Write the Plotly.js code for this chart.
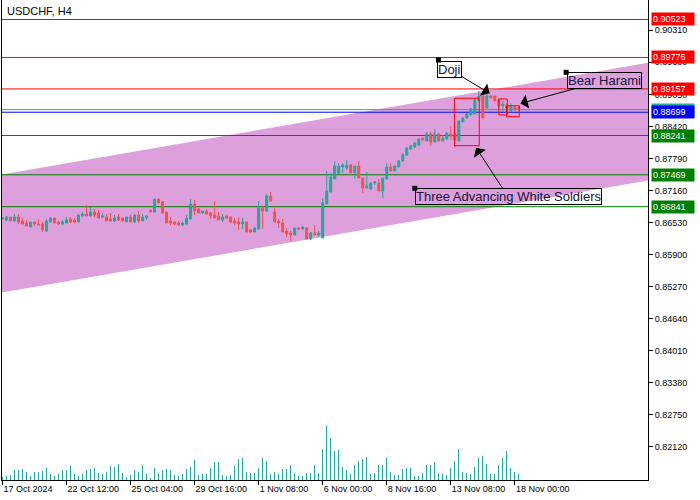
<!DOCTYPE html>
<html><head><meta charset="utf-8">
<script src="https://cdn.plot.ly/plotly-3.0.1.min.js"></script>
<style>html,body{margin:0;padding:0;background:#fff}#chart{width:700px;height:500px}</style>
</head><body><div id="chart"></div>
<script>
// ---- data (USDCHF H4) ----
const openP = [0.86599,0.86579,0.86638,0.86560,0.86638,0.86560,0.86520,0.86442,0.86540,0.86501,
0.86501,0.86363,0.86540,0.86619,0.86540,0.86501,0.86520,0.86599,0.86579,0.86540,
0.86658,0.86697,0.86658,0.86737,0.86717,0.86638,0.86638,0.86599,0.86560,0.86638,
0.86619,0.86540,0.86638,0.86540,0.86678,0.86560,0.86619,0.86776,0.86737,0.86992,
0.86933,0.86737,0.86560,0.86540,0.86520,0.86481,0.86501,0.86599,0.86894,0.86796,
0.86717,0.86756,0.86717,0.86678,0.86658,0.86579,0.86658,0.86638,0.86560,0.86540,
0.86501,0.86540,0.86383,0.86343,0.86402,0.86815,0.86756,0.87051,0.86737,0.86560,
0.86520,0.86363,0.86324,0.86284,0.86422,0.86402,0.86422,0.86206,0.86324,0.86284,
0.86225,0.86894,0.87130,0.87386,0.87504,0.87622,0.87602,0.87661,0.87504,0.87641,
0.87405,0.87209,0.87189,0.87307,0.87307,0.87150,0.87386,0.87622,0.87543,0.87622,
0.87740,0.87858,0.87976,0.88015,0.88054,0.88192,0.88133,0.88271,0.88113,0.88271,
0.88133,0.88172,0.88271,0.88271,0.88133,0.88507,0.88585,0.88644,0.88664,0.88920,
0.89018,0.88782,0.89018,0.89018,0.88939,0.88821,0.88841,0.88723,0.88802,0.88802];
const highP = [0.86619,0.86658,0.86638,0.86697,0.86697,0.86619,0.86579,0.86540,0.86540,0.86599,
0.86540,0.86599,0.86638,0.86619,0.86560,0.86579,0.86638,0.86638,0.86619,0.86678,
0.86737,0.86874,0.86835,0.86796,0.86776,0.86717,0.86697,0.86717,0.86678,0.86697,
0.86619,0.86638,0.86678,0.86697,0.86756,0.86697,0.86678,0.86776,0.86992,0.87012,
0.86953,0.86737,0.86638,0.86560,0.86560,0.86540,0.86678,0.86992,0.86973,0.86815,
0.86756,0.86796,0.86737,0.86953,0.86737,0.86697,0.86658,0.86638,0.86619,0.86638,
0.86619,0.86540,0.86402,0.86442,0.86953,0.86855,0.87091,0.87130,0.86815,0.86599,
0.86599,0.86422,0.86363,0.86422,0.86442,0.86461,0.86442,0.86343,0.86481,0.86363,
0.87012,0.87543,0.87504,0.87740,0.87700,0.87700,0.87759,0.87681,0.87641,0.87740,
0.87405,0.87523,0.87307,0.87346,0.87386,0.87405,0.87700,0.87700,0.87661,0.87759,
0.87897,0.88015,0.88054,0.88113,0.88172,0.88192,0.88310,0.88310,0.88369,0.88290,
0.88251,0.88310,0.88428,0.88310,0.88546,0.88605,0.88684,0.88782,0.88979,0.89116,
0.89097,0.89077,0.89038,0.89018,0.88979,0.88920,0.88880,0.88880,0.88821,0.88802];
const lowP = [0.86599,0.86560,0.86560,0.86540,0.86501,0.86501,0.86461,0.86442,0.86461,0.86481,
0.86343,0.86343,0.86540,0.86520,0.86481,0.86481,0.86520,0.86520,0.86520,0.86540,
0.86658,0.86658,0.86658,0.86638,0.86619,0.86619,0.86560,0.86540,0.86540,0.86560,
0.86540,0.86540,0.86540,0.86520,0.86520,0.86560,0.86579,0.86737,0.86737,0.86914,
0.86717,0.86520,0.86481,0.86481,0.86461,0.86461,0.86501,0.86599,0.86678,0.86717,
0.86697,0.86697,0.86599,0.86619,0.86579,0.86540,0.86599,0.86520,0.86481,0.86383,
0.86402,0.86343,0.86324,0.86343,0.86402,0.86402,0.86737,0.86953,0.86540,0.86422,
0.86343,0.86245,0.86166,0.86284,0.86402,0.86402,0.86206,0.86186,0.86284,0.86245,
0.86225,0.86894,0.87130,0.87386,0.87484,0.87504,0.87563,0.87504,0.87386,0.87405,
0.87110,0.87209,0.87189,0.87268,0.87150,0.87012,0.87386,0.87543,0.87543,0.87622,
0.87720,0.87838,0.87956,0.87995,0.88035,0.88153,0.88133,0.88035,0.88113,0.88133,
0.88133,0.88172,0.88153,0.87995,0.88133,0.88507,0.88566,0.88644,0.88664,0.88920,
0.88585,0.88782,0.88979,0.88920,0.88743,0.88703,0.88762,0.88703,0.88723,0.88743];
const closeP = [0.86619,0.86638,0.86560,0.86638,0.86540,0.86501,0.86461,0.86540,0.86501,0.86481,
0.86383,0.86560,0.86619,0.86520,0.86501,0.86540,0.86579,0.86540,0.86540,0.86678,
0.86697,0.86658,0.86737,0.86678,0.86619,0.86658,0.86560,0.86560,0.86619,0.86579,
0.86560,0.86638,0.86540,0.86678,0.86560,0.86638,0.86658,0.86737,0.86992,0.86914,
0.86717,0.86520,0.86520,0.86501,0.86481,0.86520,0.86619,0.86894,0.86756,0.86717,
0.86756,0.86697,0.86658,0.86619,0.86579,0.86638,0.86619,0.86540,0.86520,0.86501,
0.86540,0.86343,0.86343,0.86422,0.86815,0.86756,0.87051,0.86953,0.86540,0.86520,
0.86343,0.86304,0.86284,0.86422,0.86402,0.86442,0.86206,0.86324,0.86284,0.86324,
0.86914,0.87150,0.87425,0.87641,0.87641,0.87661,0.87661,0.87504,0.87641,0.87405,
0.87209,0.87248,0.87307,0.87327,0.87150,0.87405,0.87622,0.87543,0.87641,0.87740,
0.87858,0.87995,0.88035,0.88094,0.88172,0.88153,0.88271,0.88113,0.88271,0.88133,
0.88192,0.88290,0.88231,0.88153,0.88526,0.88585,0.88664,0.88762,0.88939,0.89018,
0.88585,0.89018,0.88979,0.88920,0.88821,0.88861,0.88782,0.88821,0.88762,0.88750];
const tickVolume = [80,100,130,250,250,280,200,100,220,220,
230,310,160,100,160,250,250,370,160,100,
160,250,280,310,190,160,200,370,340,430,
190,70,130,250,220,400,160,60,310,190,
250,280,250,130,100,160,280,340,520,130,
160,160,310,460,460,130,100,130,370,550,
580,220,190,190,310,580,490,160,220,160,
280,280,400,190,100,100,190,190,400,190,
820,1400,1090,760,790,340,250,160,400,490,
550,610,160,190,400,400,580,220,130,130,
280,310,310,100,100,190,400,400,460,190,
160,130,310,490,820,220,190,160,340,580,
640,430,160,160,400,580,760,310,220,160];
const tickPositions = [0,16,32,48,64,80,96,112,128];
const tickLabels = ["17 Oct 2024","22 Oct 12:00","25 Oct 04:00","29 Oct 16:00","1 Nov 08:00","6 Nov 00:00","8 Nov 16:00","13 Nov 08:00","18 Nov 00:00"];
const priceTicks = [0.82120,0.82750,0.83380,0.84010,0.84640,0.85270,0.85900,0.86530,0.87160,0.87790,0.88420,0.89050,0.89680,0.90310];
// horizontal levels
const levelPrices = [0.90523,0.89776,0.89157,0.88750,0.88699,0.88241,0.87469,0.86841];
const levelColors = ["#ff0000","#ff0000","#ff0000","#2aa9a0","#0000ff","#008000","#008000","#008000"];
// channel (bar index, upper price, lower price)
const channelX = [-0.1, 161.25];
const channelUpper = [0.87474, 0.89674];
const channelLower = [0.85153, 0.87357];
// pattern boxes [x0,x1,y0,y1]
const patternBoxes = [[112.9,119.1,0.88041,0.88973],[124.0,126.1,0.88645,0.88959],[125.9,129.1,0.88611,0.88827]];
// pattern labels
const patternText = ["Doji","Bear Harami","Three Advancing White Soldiers"];
const patternTargetX = [121.7,129.4,118.3];
const patternTargetY = [0.89071,0.88870,0.88002];
const patternAnchorX = [108.9,140.8,103.0];
const patternAnchorY = [0.89726,0.89484,0.87203];
const patternAx = [-40,84,32];
const patternAy = [-24,-23,49];

const idx = openP.map((_, i) => i);
const UP = "#26a69a", DN = "#ef5350";
const FONT = 'Liberation Sans, Arial, sans-serif';

const traces = [
  {type:'candlestick', x: idx, open: openP, high: highP, low: lowP, close: closeP,
   increasing:{line:{color:UP,width:1},fillcolor:UP},
   decreasing:{line:{color:DN,width:1},fillcolor:DN},
   whiskerwidth:0, hoverinfo:'skip', showlegend:false},
  {type:'bar', x: idx, y: tickVolume, yaxis:'y2', marker:{color:UP}, width:0.3,
   hoverinfo:'skip', showlegend:false},
  {type:'scatter', mode:'markers', x: patternAnchorX, y: patternAnchorY,
   marker:{symbol:'square', size:5, color:'#000'}, hoverinfo:'skip', showlegend:false}
];

const shapes = [];
shapes.push({type:'path', layer:'below', xref:'x', yref:'y',
  path:`M ${channelX[0]},${channelUpper[0]} L ${channelX[1]},${channelUpper[1]} L ${channelX[1]},${channelLower[1]} L ${channelX[0]},${channelLower[0]} Z`,
  fillcolor:'#dda0dd', line:{width:0}});
levelPrices.forEach((p,k)=>{
  shapes.push({type:'line', layer:'below', xref:'x', yref:'y', x0:channelX[0], x1:channelX[1], y0:p, y1:p,
    line:{color:levelColors[k], width:1}});
});
patternBoxes.forEach(b=>{
  shapes.push({type:'rect', layer:'above', xref:'x', yref:'y', x0:b[0], x1:b[1], y0:b[2], y1:b[3],
    line:{color:'#ff0000', width:1}, fillcolor:'rgba(0,0,0,0)'});
});

const annotations = [];
annotations.push({xref:'paper', yref:'paper', x:0, y:1, xanchor:'left', yanchor:'top', xshift:3, yshift:-3,
  text:'USDCHF, H4', showarrow:false, font:{family:FONT, size:11, color:'#000'}});
levelPrices.forEach((p,k)=>{
  annotations.push({xref:'paper', yref:'y', x:1, y:p, xanchor:'left', yanchor:'middle', xshift:3,
    text:p.toFixed(5), showarrow:false, bgcolor:levelColors[k], width:40, height:10, align:'left', borderpad:1,
    font:{family:FONT, size:9, color:'#fff'}});
});
patternText.forEach((t,k)=>{
  annotations.push({xref:'x', yref:'y', x:patternTargetX[k], y:patternTargetY[k], ax:patternAx[k], ay:patternAy[k],
    text:t, showarrow:true, arrowhead:1, arrowsize:2.4, arrowwidth:1, arrowcolor:'#000',
    bordercolor:'#000', borderwidth:1, borderpad:0, standoff:0,
    font:{family:FONT, size:13, color:'#14143c'}});
});

const maxVol = Math.max(...tickVolume);
const layout = {
  width:700, height:500, margin:{l:2, r:52, t:0, b:20},
  paper_bgcolor:'#fff', plot_bgcolor:'#fff', showlegend:false,
  xaxis:{range:[-0.1,161.25], showgrid:false, zeroline:false, showline:true, linecolor:'#000', linewidth:1,
    tickmode:'array', tickvals:tickPositions, ticktext:tickLabels, ticks:'outside', ticklen:4, tickcolor:'#000',
    ticklabelposition:'outside right', tickfont:{family:FONT, size:9, color:'#000'},
    rangeslider:{visible:false}, fixedrange:true},
  yaxis:{side:'right', range:[0.814665,0.909059], showgrid:false, zeroline:false, showline:true, mirror:true,
    linecolor:'#000', linewidth:1, tickmode:'array', tickvals:priceTicks, tickformat:'.5f',
    ticks:'outside', ticklen:4, tickcolor:'#000',
    tickfont:{family:FONT, size:9, color:'#000'}},
  yaxis2:{overlaying:'y', range:[0, maxVol*480/53.6], visible:false, fixedrange:true},
  shapes: shapes, annotations: annotations, bargap:0
};
Plotly.newPlot('chart', traces, layout, {staticPlot:true, displayModeBar:false});
</script></body></html>
